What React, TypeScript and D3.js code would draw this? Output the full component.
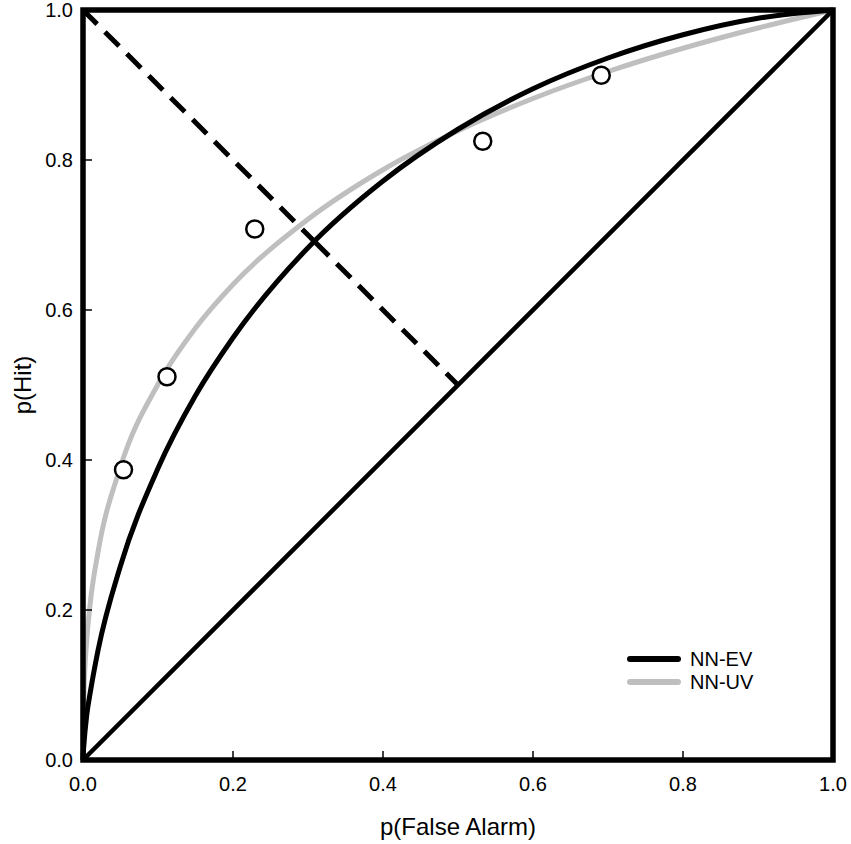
import { line, curveMonotoneX, scaleLinear } from "d3";

// false-alarm rates sampled along the two fitted ROC curves
const curveFa = [0, 0.0002, 0.001, 0.005, 0.01, 0.02, 0.05, 0.1, 0.15, 0.2, 0.3, 0.4, 0.5, 0.6, 0.7, 0.8, 0.9, 1];
const evHit = [0, 0.006, 0.018, 0.06, 0.092, 0.146, 0.259, 0.389, 0.486, 0.563, 0.683, 0.772, 0.841, 0.895, 0.936, 0.967, 0.989, 1];
const uvHit = [0, 0.041, 0.082, 0.16, 0.212, 0.277, 0.391, 0.501, 0.576, 0.634, 0.721, 0.787, 0.839, 0.882, 0.918, 0.949, 0.976, 1];

// observed points
const obsFa = [0.054, 0.112, 0.229, 0.533, 0.691];
const obsHit = [0.387, 0.511, 0.708, 0.825, 0.913];

// chance diagonal and the d' guide (negative diagonal, broken at the EV curve)
const chance = [[0, 0], [1, 1]];
const guideTop = [[0, 1], [0.309, 0.691]];
const guideBottom = [[0.309, 0.691], [0.5, 0.5]];

const ticks = [0, 0.2, 0.4, 0.6, 0.8, 1];
const tickLabels = ["0.0", "0.2", "0.4", "0.6", "0.8", "1.0"];

const series = [
  { name: "NN-EV", color: "#000000", values: evHit },
  { name: "NN-UV", color: "#bfbfbf", values: uvHit }
];

const width = 851;
const height = 844;
const font = "'Liberation Sans', Arial, sans-serif";

export default function App() {
  const x = scaleLinear().domain([0, 1]).range([83, 833]);
  const y = scaleLinear().domain([0, 1]).range([760, 10]);

  const curve = line<[number, number]>()
    .x((d) => x(d[0]))
    .y((d) => y(d[1]))
    .curve(curveMonotoneX);
  const straight = line<number[]>()
    .x((d) => x(d[0]))
    .y((d) => y(d[1]));

  const inner = ticks.slice(1, -1);

  return (
    <svg
      width={width}
      height={height}
      style={{ position: "absolute", left: 0, top: 0, background: "#fff" }}
      fontFamily={font}
    >
      {/* reversed order so black curve sits on top of grey */}
      {[...series].reverse().map((s) => (
        <path
          key={s.name}
          d={curve(curveFa.map((f, i) => [f, s.values[i]] as [number, number])) ?? ""}
          fill="none"
          stroke={s.color}
          strokeWidth={5}
        />
      ))}
      <path d={straight(chance) ?? ""} stroke="#000" strokeWidth={4.5} fill="none" />
      <path d={straight(guideTop) ?? ""} stroke="#000" strokeWidth={5} strokeDasharray="20 11" fill="none" />
      <path d={straight(guideBottom) ?? ""} stroke="#000" strokeWidth={5} strokeDasharray="20 11" fill="none" />

      {obsFa.map((f, i) => (
        <circle key={i} cx={x(f)} cy={y(obsHit[i])} r={8.5} fill="#fff" stroke="#000" strokeWidth={2.5} />
      ))}

      <rect
        x={x(0)}
        y={y(1)}
        width={x(1) - x(0)}
        height={y(0) - y(1)}
        fill="none"
        stroke="#000"
        strokeWidth={5.5}
      />

      {inner.map((t) => (
        <g key={`t-${t}`}>
          <line x1={x(t)} x2={x(t)} y1={y(0)} y2={y(0) - 9} stroke="#000" strokeWidth={1.5} />
          <line x1={x(0)} x2={x(0) + 9} y1={y(t)} y2={y(t)} stroke="#000" strokeWidth={1.5} />
        </g>
      ))}

      {ticks.map((t, i) => (
        <g key={`l-${t}`} fontSize={20} fill="#000">
          <text x={x(t)} y={791} textAnchor="middle">
            {tickLabels[i]}
          </text>
          <text x={73} y={y(t) + 7} textAnchor="end">
            {tickLabels[i]}
          </text>
        </g>
      ))}

      <text x={(x(0) + x(1)) / 2} y={835} textAnchor="middle" fontSize={24}>
        p(False Alarm)
      </text>
      <text
        transform={`translate(${31}, ${(y(0) + y(1)) / 2}) rotate(-90)`}
        textAnchor="middle"
        fontSize={24}
      >
        p(Hit)
      </text>

      {series.map((s, i) => (
        <g key={`leg-${s.name}`} transform={`translate(630, ${659 + i * 23})`}>
          <line x1={0} x2={48} y1={0} y2={0} stroke={s.color} strokeWidth={6} strokeLinecap="round" />
          <text x={60} y={7} fontSize={20}>
            {s.name}
          </text>
        </g>
      ))}
    </svg>
  );
}
